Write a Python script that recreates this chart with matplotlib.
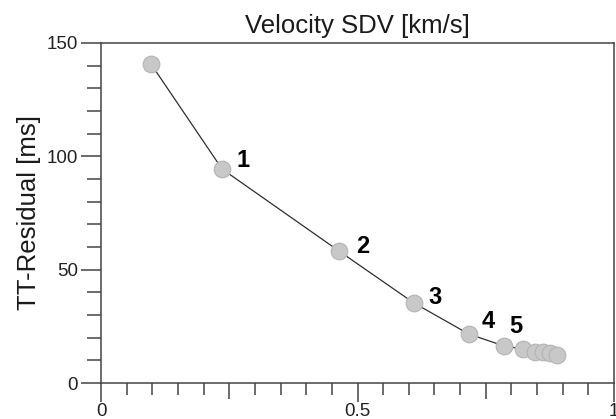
import numpy as np
import matplotlib.pyplot as plt

plt.rcParams["font.family"] = ["Liberation Sans", "DejaVu Sans"]

# Velocity SDV vs travel time residual
sdv = [0.0975, 0.236, 0.464, 0.610, 0.717, 0.786, 0.823, 0.846, 0.862, 0.875, 0.889]
residual = [140.7, 94.4, 58.2, 35.3, 21.6, 16.3, 15.0, 13.7, 13.7, 13.2, 12.4]

# iteration numbers written next to the first points
iter_labels = ["1", "2", "3", "4", "5"]
iter_index = [1, 2, 3, 4, 5]
label_offsets = [(15, 6), (17, 3), (15, 4), (14, 9), (8, 14)]  # points

fig = plt.figure(figsize=(6.16, 4.19), dpi=100)
ax = fig.add_axes([0.164, 0.0859, 0.8328, 0.8115])

ax.plot(sdv, residual, "-", color="#2e2e2e", linewidth=0.9, zorder=2)
ax.plot(sdv, residual, "o", markersize=12, markerfacecolor="#c8c8c8",
        markeredgecolor="#b4b4b4", markeredgewidth=0.8, zorder=3)

for lab, i, off in zip(iter_labels, iter_index, label_offsets):
    ax.annotate(lab, (sdv[i], residual[i]), xytext=off, textcoords="offset points",
                ha="center", va="center", fontsize=17, fontweight="bold", color="black")

ax.set_xlim(0, 1)
ax.set_ylim(0, 150)

ax.set_xticks([0, 0.25, 0.5, 0.75, 1])
ax.set_xticklabels(["0", "", "0.5", "", "1"])
ax.set_xticks(np.arange(0, 1.0001, 0.05), minor=True)
ax.set_yticks([0, 50, 100, 150])
ax.set_yticks(np.arange(0, 150.1, 10), minor=True)

ax.tick_params(axis="both", which="major", direction="out", labelsize=13.5,
               width=1.1, color="#444444", labelcolor="#222222")
ax.tick_params(axis="x", which="major", length=13.7, pad=1)
ax.tick_params(axis="y", which="major", length=14.4, pad=2)
ax.tick_params(axis="x", which="minor", direction="out", length=8.6, width=1.1, color="#444444")
ax.tick_params(axis="y", which="minor", direction="out", length=10, width=1.1, color="#444444")

# 0.25 / 0.75 ticks are a bit shorter than the labelled ones
for t in ax.xaxis.get_major_ticks()[1::2]:
    t.tick1line.set_markersize(11.5)

for s in ax.spines.values():
    s.set_linewidth(1.1)
    s.set_color("#444444")

ax.set_title("Velocity SDV [km/s]", fontsize=18.5, pad=7, color="#1a1a1a")
ax.set_ylabel("TT-Residual [ms]", fontsize=18.5, labelpad=4, color="#1a1a1a")

fig.savefig("out.png", dpi=100)
